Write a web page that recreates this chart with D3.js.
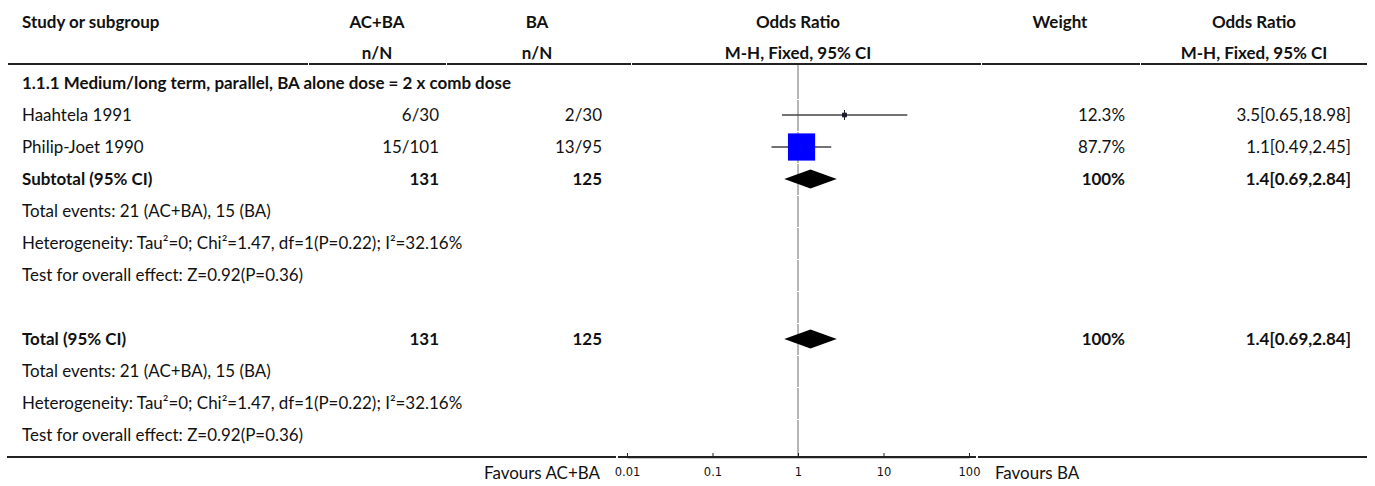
<html>

<head>
  <script src="https://d3js.org/d3.v7.min.js"></script>
  <style>
    body { margin: 0; background: #fff; }
    svg { font-family: Lato, "Noto Sans", sans-serif; }
    text { fill: #111; }
    .bold { font-weight: bold; }
  </style>
</head>

<body>
  <svg id="forest" width="1375" height="486"></svg>
  <script>
    // study rows
    const studies = ["Haahtela 1991", "Philip-Joet 1990"];
    const eventsAC = [6, 15];
    const totalAC = [30, 101];
    const eventsBA = [2, 13];
    const totalBA = [30, 95];
    const oddsRatio = [3.5, 1.1];
    const ciLow = [0.65, 0.49];
    const ciHigh = [18.98, 2.45];
    const weights = [12.3, 87.7];

    // pooled (same for subtotal and total)
    const pooledOR = 1.4;
    const pooledLow = 0.69;
    const pooledHigh = 2.84;
    const pooledWeight = 100;
    const pooledAC = 131;
    const pooledBA = 125;

    const groupTitle = "1.1.1 Medium/long term, parallel, BA alone dose = 2 x comb dose";
    const statLines = [
      "Total events: 21 (AC+BA), 15 (BA)",
      "Heterogeneity: Tau\u00b2=0; Chi\u00b2=1.47, df=1(P=0.22); I\u00b2=32.16%",
      "Test for overall effect: Z=0.92(P=0.36)"
    ];
    const axisTicks = [0.01, 0.1, 1, 10, 100];

    let svg = d3.select('svg#forest');

    // size the text so a study name is about as wide as in the original
    let probe = svg.append('text').style('font-size', '100px').text(studies[0]);
    const fontSize = 100 * 110 / probe.node().getComputedTextLength();
    probe.remove();
    svg.style('font-size', fontSize + 'px');

    const rowTop = 67, rowH = 32, nRows = 12;
    const rowY = i => rowTop + rowH * i + rowH / 2;

    const col = { study: 22, acHead: 377, acRight: 439, baHead: 537, baRight: 602,
                  wtHead: 1060, wtRight: 1125, orHead: 1254, orRight: 1351 };
    const colEdges = [7, 308, 446, 631, 981, 1140, 1367];

    let x = d3.scaleLog().domain([0.01, 100]).range([627, 969]);

    // header
    let head = svg.append('g');
    const hdr = (t, xx, y, anchor) => head.append('text').attr('class', 'bold')
      .attr('x', xx).attr('y', y).attr('dy', '0.35em').attr('text-anchor', anchor).text(t);
    hdr("Study or subgroup", col.study, 22, 'start');
    hdr("AC+BA", col.acHead, 22, 'middle');
    hdr("BA", col.baHead, 22, 'middle');
    hdr("Odds Ratio", x(1), 22, 'middle');
    hdr("Weight", col.wtHead, 22, 'middle');
    hdr("Odds Ratio", col.orHead, 22, 'middle');
    hdr("n/N", col.acHead, 53, 'middle');
    hdr("n/N", col.baHead, 53, 'middle');
    hdr("M-H, Fixed, 95% CI", x(1), 53, 'middle');
    hdr("M-H, Fixed, 95% CI", col.orHead, 53, 'middle');

    // header rule, one piece per column
    svg.append('g').selectAll('line')
      .data(d3.pairs(colEdges))
      .join('line')
      .attr('x1', d => d[0] + 1).attr('x2', d => d[1])
      .attr('y1', 64).attr('y2', 64)
      .attr('stroke', '#222').attr('stroke-width', 2);

    // reference line at OR = 1, one segment per row
    svg.append('g').selectAll('line')
      .data(d3.range(nRows))
      .join('line')
      .attr('x1', x(1)).attr('x2', x(1))
      .attr('y1', i => rowTop + rowH * i + (i === 0 ? -2 : 1))
      .attr('y2', i => rowTop + rowH * (i + 1) - (i === nRows - 1 ? -5 : 0))
      .attr('stroke', '#aaa').attr('stroke-width', 1.7);

    const txt = (t, xx, y, anchor, bold) => svg.append('text')
      .attr('class', bold ? 'bold' : null)
      .attr('x', xx).attr('y', y).attr('dy', '0.35em').attr('text-anchor', anchor).text(t);

    txt(groupTitle, col.study, rowY(0), 'start', true);

    // study rows
    let rows = svg.append('g').selectAll('g.study')
      .data(studies)
      .join('g')
      .attr('class', 'study')
      .attr('transform', (d, i) => `translate(0,${rowY(i + 1)})`);

    rows.append('text').attr('x', col.study).attr('dy', '0.35em').text(d => d);
    rows.append('text').attr('x', col.acRight).attr('dy', '0.35em').attr('text-anchor', 'end')
      .text((d, i) => `${eventsAC[i]}/${totalAC[i]}`);
    rows.append('text').attr('x', col.baRight).attr('dy', '0.35em').attr('text-anchor', 'end')
      .text((d, i) => `${eventsBA[i]}/${totalBA[i]}`);
    rows.append('text').attr('x', col.wtRight).attr('dy', '0.35em').attr('text-anchor', 'end')
      .text((d, i) => `${weights[i]}%`);
    rows.append('text').attr('x', col.orRight).attr('dy', '0.35em').attr('text-anchor', 'end')
      .text((d, i) => `${oddsRatio[i]}[${ciLow[i]},${ciHigh[i]}]`);

    rows.append('line')
      .attr('x1', (d, i) => x(ciLow[i])).attr('x2', (d, i) => x(ciHigh[i]))
      .attr('stroke', '#444').attr('stroke-width', 1.7);
    rows.append('rect')
      .attr('x', (d, i) => x(oddsRatio[i]) - weights[i] * 0.155)
      .attr('y', (d, i) => -weights[i] * 0.155)
      .attr('width', (d, i) => weights[i] * 0.31)
      .attr('height', (d, i) => weights[i] * 0.31)
      .attr('fill', '#0000ff')
      .attr('stroke', (d, i) => weights[i] < 30 ? '#111' : 'none')
      .attr('stroke-width', 0.8);
    rows.append('line')
      .attr('x1', (d, i) => x(oddsRatio[i])).attr('x2', (d, i) => x(oddsRatio[i]))
      .attr('y1', -5).attr('y2', 5)
      .attr('stroke', '#222').attr('stroke-width', 1);

    // pooled rows
    const pooled = (label, ri) => {
      const y = rowY(ri);
      txt(label, col.study, y, 'start', true);
      txt(pooledAC, col.acRight, y, 'end', true);
      txt(pooledBA, col.baRight, y, 'end', true);
      txt(`${pooledWeight}%`, col.wtRight, y, 'end', true);
      txt(`${pooledOR}[${pooledLow},${pooledHigh}]`, col.orRight, y, 'end', true);
      svg.append('path')
        .attr('d', `M${x(pooledLow)},${y} L${x(pooledOR)},${y - 9.5} L${x(pooledHigh)},${y} L${x(pooledOR)},${y + 9.5} Z`)
        .attr('fill', '#000');
      statLines.forEach((s, k) => txt(s, col.study, rowY(ri + 1 + k), 'start', false));
    };
    pooled("Subtotal (95% CI)", 3);
    pooled("Total (95% CI)", 8);

    // bottom rule (split around the axis) and axis
    svg.append('g').selectAll('line')
      .data([[7, 616], [618, 976], [978, 1367]])
      .join('line')
      .attr('x1', d => d[0]).attr('x2', d => d[1])
      .attr('y1', 457).attr('y2', 457)
      .attr('stroke', '#222').attr('stroke-width', 2);

    let axis = d3.axisBottom(x).tickValues(axisTicks).tickFormat(d => String(d))
      .tickSize(-4).tickSizeOuter(0).tickPadding(11);
    let ax = svg.append('g').attr('transform', 'translate(0,457)').call(axis)
      .attr('font-family', '"DejaVu Sans", sans-serif').attr('font-size', 11.5);
    ax.select('.domain').attr('stroke', '#222').attr('stroke-width', 1.5);
    ax.selectAll('.tick line').attr('stroke', '#222');
    ax.selectAll('.tick text').attr('fill', '#333');

    txt("Favours AC+BA", 600, 473, 'end', false);
    txt("Favours BA", 995, 473, 'start', false);
  </script>

</body>

</html>
